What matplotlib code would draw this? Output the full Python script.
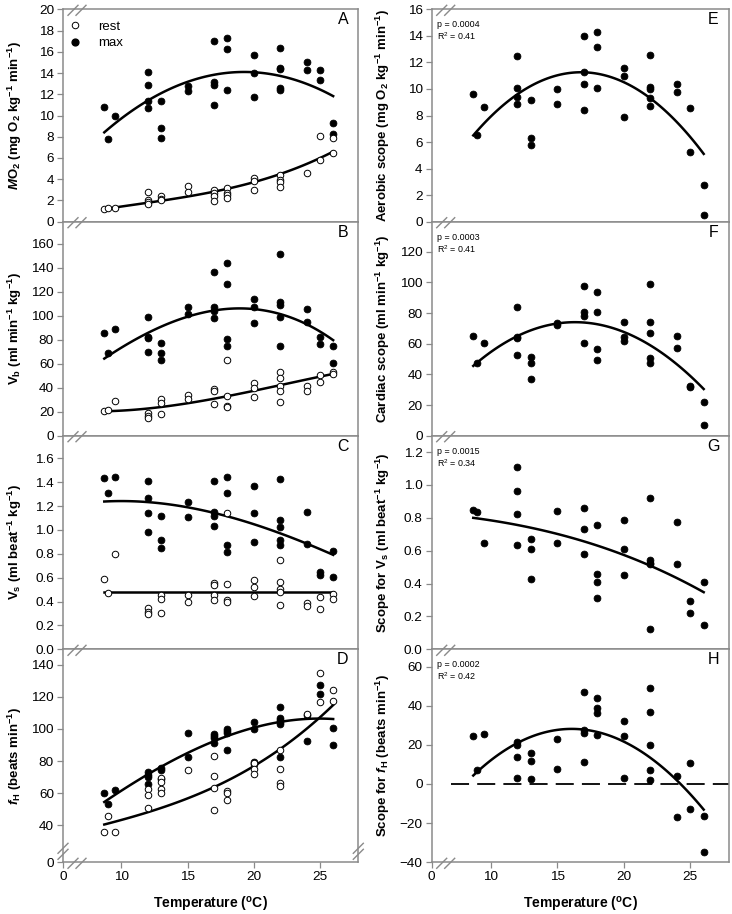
import numpy as np
import matplotlib.pyplot as plt
from matplotlib.lines import Line2D

plt.rcParams['font.family'] = 'Liberation Sans'
plt.rcParams['mathtext.fontset'] = 'custom'
plt.rcParams['mathtext.rm'] = 'Liberation Sans'
plt.rcParams['mathtext.it'] = 'Liberation Sans:italic:bold'
plt.rcParams['mathtext.bf'] = 'Liberation Sans:bold'
plt.rcParams['mathtext.default'] = 'regular'

# ---- data ----
fit_t = [8.7, 10, 12, 14, 16, 18, 20, 22, 24, 26]

# A: MO2
a_max_t = [8.7, 9, 9.5, 12, 12, 12, 12, 13, 13, 13, 15, 15, 17, 17, 17, 17, 18, 18, 18,
           20, 20, 20, 22, 22, 22, 22, 22, 24, 24, 25, 25, 26, 26]
a_max_y = [10.8, 7.8, 10.0, 14.1, 12.9, 11.4, 10.7, 11.4, 8.8, 7.9, 12.8, 12.3, 17.0, 13.2, 12.9, 11.0,
           17.3, 16.3, 12.4, 15.7, 14.0, 11.7, 16.4, 14.5, 14.4, 12.6, 12.4, 15.0, 14.3, 14.3, 13.3, 9.3, 8.3]
a_rest_t = [8.7, 9, 9.5, 12, 12, 12, 12, 13, 13, 13, 15, 15, 17, 17, 17, 17, 18, 18, 18, 18,
            20, 20, 20, 22, 22, 22, 22, 24, 25, 25, 26, 26]
a_rest_y = [1.15, 1.25, 1.3, 2.75, 2.0, 1.9, 1.65, 2.45, 2.15, 2.0, 3.35, 2.75, 3.0, 2.7, 2.4, 1.95,
            3.2, 2.7, 2.5, 2.25, 4.1, 3.8, 3.0, 4.4, 3.9, 3.7, 3.3, 4.6, 8.05, 5.8, 7.85, 6.5]
a_max_fit = [8.4, 9.75, 11.4, 12.7, 13.55, 14.0, 14.08, 13.73, 12.98, 11.82]
a_rest_fit = [1.2, 1.42, 1.78, 2.17, 2.6, 3.1, 3.72, 4.48, 5.45, 6.6]

# B: cardiac output
b_max_t = [8.7, 9, 9.5, 12, 12, 12, 12, 13, 13, 13, 15, 15, 17, 17, 17, 17, 18, 18, 18, 18,
           20, 20, 20, 22, 22, 22, 22, 22, 24, 24, 25, 25, 26, 26]
b_max_y = [86, 68.7, 88.8, 98.8, 82.6, 81.3, 70.1, 77.1, 68.7, 63.2, 107, 101.6, 136.3, 107.7, 104, 98,
           143.9, 126.3, 80.4, 74.9, 113.8, 107.7, 93.8, 151.4, 111.9, 109.1, 98.8, 74.9,
           105.7, 95.2, 82.6, 76.2, 74.9, 60.9]
b_rest_t = [8.7, 9, 9.5, 12, 12, 12, 13, 13, 13, 15, 15, 17, 17, 17, 18, 18, 18, 18,
            20, 20, 20, 22, 22, 22, 22, 22, 24, 24, 25, 25, 26, 26]
b_rest_y = [20.9, 21.4, 28.9, 18.6, 16.7, 15, 30.3, 27.5, 18.1, 33.9, 30.6, 38.7, 37.3, 26.2,
            63.2, 33.4, 25, 23.7, 44.2, 39.5, 32.6, 52.9, 48.4, 41.7, 37.3, 27.8,
            41.7, 37.6, 50.6, 45.1, 53.4, 51.5]
b_max_fit = [64.5, 73.5, 85.5, 95.5, 102.5, 106, 105.8, 101.5, 92.5, 80]
b_rest_fit = [20.3, 21, 22.8, 25.5, 28.8, 32.8, 37.5, 42.3, 47.0, 51.5]

# C: stroke volume
c_max_t = [8.7, 9, 9.5, 12, 12, 12, 12, 13, 13, 13, 15, 15, 17, 17, 17, 17, 18, 18, 18, 18,
           20, 20, 20, 22, 22, 22, 22, 22, 24, 24, 25, 25, 26, 26]
c_max_y = [1.438, 1.307, 1.447, 1.41, 1.265, 1.14, 0.98, 1.12, 0.916, 0.852, 1.237, 1.106,
           1.413, 1.148, 1.117, 1.034, 1.447, 1.307, 0.874, 0.813, 1.372, 1.14, 0.902,
           1.427, 1.084, 1.022, 0.916, 0.874, 1.154, 0.88, 0.645, 0.623, 0.824, 0.603]
c_rest_t = [8.7, 9, 9.5, 12, 12, 12, 13, 13, 13, 15, 15, 17, 17, 17, 17, 18, 18, 18, 18,
            20, 20, 20, 22, 22, 22, 22, 22, 24, 24, 25, 25, 26, 26]
c_rest_y = [0.589, 0.469, 0.799, 0.349, 0.316, 0.293, 0.455, 0.422, 0.302, 0.455, 0.4,
            0.553, 0.539, 0.455, 0.413, 1.14, 0.547, 0.413, 0.4, 0.581, 0.525, 0.45,
            0.749, 0.561, 0.506, 0.483, 0.372, 0.385, 0.363, 0.436, 0.335, 0.461, 0.422]
c_max_fit = [1.24, 1.24, 1.232, 1.21, 1.17, 1.115, 1.045, 0.97, 0.89, 0.79]
c_rest_fit = [0.48, 0.48, 0.48, 0.48, 0.48, 0.48, 0.48, 0.48, 0.48, 0.48]

# D: heart rate
d_max_t = [8.7, 9, 9.5, 12, 12, 12, 12, 13, 13, 13, 15, 15, 17, 17, 17, 17, 18, 18, 18, 18,
           20, 20, 20, 20, 22, 22, 22, 22, 22, 22, 24, 24, 25, 25, 26, 26]
d_max_y = [60.3, 53, 61.9, 73, 71.3, 70.3, 65.5, 75.5, 74.5, 68.8, 97.4, 82.4, 97, 95.8, 94.3, 91.2,
           100.2, 98.9, 97.4, 86.6, 104.3, 100.2, 79.3, 78.2, 113.7, 106.8, 105.8, 104.3, 103.1, 82.8,
           108.5, 92.2, 127.3, 122.1, 100.6, 90.1]
d_rest_t = [8.7, 9, 9.5, 12, 12, 12, 13, 13, 13, 13, 15, 17, 17, 17, 17, 18, 18, 18,
            20, 20, 20, 22, 22, 22, 22, 24, 25, 25, 26, 26]
d_rest_y = [35.8, 45.6, 35.8, 62.4, 58.8, 50.9, 69.2, 66.7, 62.6, 59.8, 74.5, 83.4, 70.9, 63, 49.4,
            61.5, 59.8, 55.7, 79, 75.1, 72, 86.6, 75.1, 66.1, 64.6, 109.5, 135, 116.9, 124.6, 117.3]
d_max_fit = [54.6, 61.2, 71.6, 81.0, 89.0, 95.6, 100.8, 104.4, 106.2, 106.3]
d_rest_fit = [40.6, 43.0, 47.6, 53.5, 60.3, 68.0, 77.0, 87.0, 100.0, 115.2]

# E-H: scopes
scope_t = [8.7, 9, 9.5, 12, 12, 12, 12, 13, 13, 13, 15, 15, 17, 17, 17, 17, 18, 18, 18, 18,
           20, 20, 20, 22, 22, 22, 22, 22, 24, 24, 25, 25, 26, 26]
e_t = [8.7, 9, 9.5, 12, 12, 12, 12, 13, 13, 13, 15, 15, 17, 17, 17, 17, 18, 18, 18,
       20, 20, 20, 22, 22, 22, 22, 22, 24, 24, 25, 25, 26, 26]
e_y = [9.6, 6.5, 8.65, 12.5, 10.1, 9.4, 8.9, 9.2, 6.3, 5.75, 10.0, 8.85, 14.0, 11.25, 10.4, 8.4,
       14.3, 13.15, 10.1, 11.55, 11.0, 7.85, 12.55, 10.15, 10.0, 9.35, 8.7, 10.4, 9.75, 8.55, 5.25, 2.8, 0.5]
e_fit = [6.5, 7.9, 9.6, 10.7, 11.2, 11.15, 10.5, 9.3, 7.5, 5.1]
f_y = [65.2, 47.2, 60.2, 84.1, 64.1, 63.5, 52.6, 51.1, 47.2, 37, 73.5, 72.2, 97.8, 80.9, 78.3, 60.2,
       93.5, 80.9, 56.5, 49.6, 74.3, 64.1, 62, 98.9, 74.3, 67, 50.4, 47.2, 64.8, 57.2, 32.2, 31.5, 22.2, 7]
f_fit = [45.5, 54.5, 65, 71.4, 73.9, 72.8, 67.7, 58.8, 46.6, 30.4]
g_t = [8.7, 9, 9.5, 12, 12, 12, 12, 13, 13, 13, 15, 15, 17, 17, 17, 18, 18, 18, 18,
       20, 20, 20, 22, 22, 22, 22, 22, 24, 24, 25, 25, 26, 26]
g_y = [0.85, 0.836, 0.644, 1.109, 0.963, 0.822, 0.633, 0.674, 0.613, 0.427, 0.84, 0.65,
       0.862, 0.731, 0.579, 0.755, 0.461, 0.411, 0.31, 0.789, 0.613, 0.455,
       0.921, 0.542, 0.528, 0.518, 0.121, 0.775, 0.518, 0.295, 0.219, 0.411, 0.148]
g_fit = [0.80, 0.785, 0.757, 0.722, 0.68, 0.632, 0.575, 0.508, 0.432, 0.348]
h_y = [24.3, 7, 25.7, 21.7, 20, 13.6, 3, 15.6, 11.9, 2.5, 23, 7.7, 46.8, 27.8, 25.8, 11.3,
       44, 39, 36.2, 25, 32, 24.7, 3, 49, 37, 19.8, 7.3, 2, 3.9, -17, 10.5, -12.8, -16.5, -34.5]
h_fit = [4, 12.5, 21, 26, 27.8, 26.8, 21.8, 13.5, 1.5, -13]

p_texts = ['p = 0.0004', 'p = 0.0003', 'p = 0.0015', 'p = 0.0002']
r2_texts = ['R$^2$ = 0.41', 'R$^2$ = 0.41', 'R$^2$ = 0.34', 'R$^2$ = 0.42']

# ---- layout (pixels of a 732x914 image) ----
W, H = 732.0, 914.0
col_x = [63.0, 431.7]
col_w = [295.3, 297.3]
row_top = [9.3, 221.7, 435.7, 649.3]
row_bot = [221.7, 435.7, 649.3, 862.3]
x_left, x_right = 5.58, 27.9
grey = '#8a8a8a'

fig = plt.figure(figsize=(W / 100, H / 100), dpi=100)


def make_ax(col, row):
    ax = fig.add_axes([col_x[col] / W, 1 - row_bot[row] / H,
                       col_w[col] / W, (row_bot[row] - row_top[row]) / H])
    for s in ax.spines.values():
        s.set_color(grey)
        s.set_linewidth(1.1)
    ax.tick_params(direction='out', length=4, width=0.9, color=grey,
                   labelsize=9.7, pad=2.5)
    ax.set_xlim(x_left, x_right)
    ax.set_xticks([x_left, 10, 15, 20, 25])
    if row == 3:
        ax.set_xticklabels(['0', '10', '15', '20', '25'])
        ax.set_xlabel('Temperature ($^{o}$C)', fontsize=10, fontweight='bold')
        ax.xaxis.set_label_coords(0.5, -0.155)
    else:
        ax.set_xticklabels([])
    ax.yaxis.set_label_coords(-0.132 if col == 0 else -0.134, 0.5)
    return ax


def slashes(ax, ax_x, ax_y, segs):
    px, py = ax.transAxes.transform((ax_x, ax_y))
    inv = fig.transFigure.inverted()
    for x0, y0, x1, y1 in segs:
        p0 = inv.transform((px + x0, py + y0))
        p1 = inv.transform((px + x1, py + y1))
        fig.add_artist(Line2D([p0[0], p1[0]], [p0[1], p1[1]], color=grey, lw=1.0))


xbreak = [(5, -6, 15, 4), (13, -6, 23, 4)]
ybreak = [(-5, 3, 5, 13), (-5, 9, 5, 19)]


def dots(ax, t, y, filled=True):
    if filled:
        ax.plot(t, y, 'o', ms=4.9, mfc='black', mec='black', mew=0.6, ls='none', zorder=3)
    else:
        ax.plot(t, y, 'o', ms=4.7, mfc='white', mec='black', mew=0.7, ls='none', zorder=3)


def curve(ax, y, deg=3):
    # smooth regression line through the values
    tt = np.linspace(fit_t[0], fit_t[-1], 120)
    ax.plot(tt, np.polyval(np.polyfit(fit_t, y, deg), tt), color='black', lw=1.8, zorder=2)


def letter(ax, s):
    ax.text(0.948, 0.95, s, transform=ax.transAxes, ha='center', va='center', fontsize=11.5)


def stats(ax, i):
    ax.text(0.018, 0.928, p_texts[i], transform=ax.transAxes, ha='left', va='center', fontsize=6.4)
    ax.text(0.018, 0.872, r2_texts[i], transform=ax.transAxes, ha='left', va='center', fontsize=6.4)


lab_kw = dict(fontsize=9.5, fontweight='bold')

# A
ax = make_ax(0, 0)
curve(ax, a_max_fit)
curve(ax, a_rest_fit)
dots(ax, a_max_t, a_max_y)
dots(ax, a_rest_t, a_rest_y, filled=False)
ax.set_ylim(0, 20)
ax.set_yticks(np.arange(0, 21, 2))
ax.set_ylabel(r'$\mathit{M}$O$_2$ (mg O$_2$ kg$^{-1}$ min$^{-1}$)', **lab_kw)
h_rest = Line2D([], [], marker='o', ls='none', ms=4.7, mfc='white', mec='black', mew=0.7)
h_max = Line2D([], [], marker='o', ls='none', ms=4.9, mfc='black', mec='black')
ax.legend([h_rest, h_max], ['rest', 'max'], loc='upper left', bbox_to_anchor=(0.018, 0.946),
          frameon=False, fontsize=9.5, handlelength=1.0, handletextpad=1.25,
          borderpad=0, borderaxespad=0, labelspacing=0.3)
letter(ax, 'A')
slashes(ax, 0, 0, xbreak)
slashes(ax, 0, 1, xbreak)

# B
ax = make_ax(0, 1)
curve(ax, b_max_fit)
curve(ax, b_rest_fit)
dots(ax, b_max_t, b_max_y)
dots(ax, b_rest_t, b_rest_y, filled=False)
ax.set_ylim(0, 178.6)
ax.set_yticks(np.arange(0, 161, 20))
ax.set_ylabel(r'V$_b$ (ml min$^{-1}$ kg$^{-1}$)', **lab_kw)
letter(ax, 'B')
slashes(ax, 0, 0, xbreak)

# C
ax = make_ax(0, 2)
curve(ax, c_max_fit)
curve(ax, c_rest_fit, deg=0)
dots(ax, c_max_t, c_max_y)
dots(ax, c_rest_t, c_rest_y, filled=False)
ax.set_ylim(0, 1.79)
ax.set_yticks(np.arange(0, 1.61, 0.2))
ax.set_yticklabels([f'{v:.1f}' for v in np.arange(0, 1.61, 0.2)])
ax.set_ylabel(r'V$_s$ (ml beat$^{-1}$ kg$^{-1}$)', **lab_kw)
letter(ax, 'C')
slashes(ax, 0, 0, xbreak)

# D
ax = make_ax(0, 3)
curve(ax, d_max_fit)
curve(ax, d_rest_fit)
dots(ax, d_max_t, d_max_y)
dots(ax, d_rest_t, d_rest_y, filled=False)
ax.set_ylim(16.7, 149.8)
ax.set_yticks([16.7, 40, 60, 80, 100, 120, 140])
ax.set_yticklabels(['0', '40', '60', '80', '100', '120', '140'])
ax.set_ylabel(r'$\mathit{f}_H$ (beats min$^{-1}$)', **lab_kw)
letter(ax, 'D')
slashes(ax, 0, 0, xbreak)
slashes(ax, 0, 0, ybreak)
slashes(ax, 1, 0, ybreak)

# E
ax = make_ax(1, 0)
curve(ax, e_fit)
dots(ax, e_t, e_y)
ax.set_ylim(0, 16)
ax.set_yticks(np.arange(0, 17, 2))
ax.set_ylabel(r'Aerobic scope (mg O$_2$ kg$^{-1}$ min$^{-1}$)', **lab_kw)
letter(ax, 'E')
stats(ax, 0)
slashes(ax, 0, 0, xbreak)
slashes(ax, 0, 1, xbreak)

# F
ax = make_ax(1, 1)
curve(ax, f_fit)
dots(ax, scope_t, f_y)
ax.set_ylim(0, 139.6)
ax.set_yticks(np.arange(0, 121, 20))
ax.set_ylabel(r'Cardiac scope (ml min$^{-1}$ kg$^{-1}$)', **lab_kw)
letter(ax, 'F')
stats(ax, 1)
slashes(ax, 0, 0, xbreak)

# G
ax = make_ax(1, 2)
curve(ax, g_fit)
dots(ax, g_t, g_y)
ax.set_ylim(0, 1.3)
ax.set_yticks(np.arange(0, 1.21, 0.2))
ax.set_yticklabels([f'{v:.1f}' for v in np.arange(0, 1.21, 0.2)])
ax.set_ylabel(r'Scope for V$_s$ (ml beat$^{-1}$ kg$^{-1}$)', **lab_kw)
letter(ax, 'G')
stats(ax, 2)
slashes(ax, 0, 0, xbreak)

# H
ax = make_ax(1, 3)
zero_start = 7.0
ax.axhline(0, xmin=(zero_start - x_left) / (x_right - x_left), color='black', lw=1.3,
           ls=(0, (10, 4.5)), zorder=1)
curve(ax, h_fit)
dots(ax, scope_t, h_y)
ax.set_ylim(-40, 68.8)
ax.set_yticks(np.arange(-40, 61, 20))
ax.set_ylabel(r'Scope for $\mathit{f}_H$ (beats min$^{-1}$)', **lab_kw)
letter(ax, 'H')
stats(ax, 3)
slashes(ax, 0, 0, xbreak)

fig.savefig('out.png', dpi=100)
